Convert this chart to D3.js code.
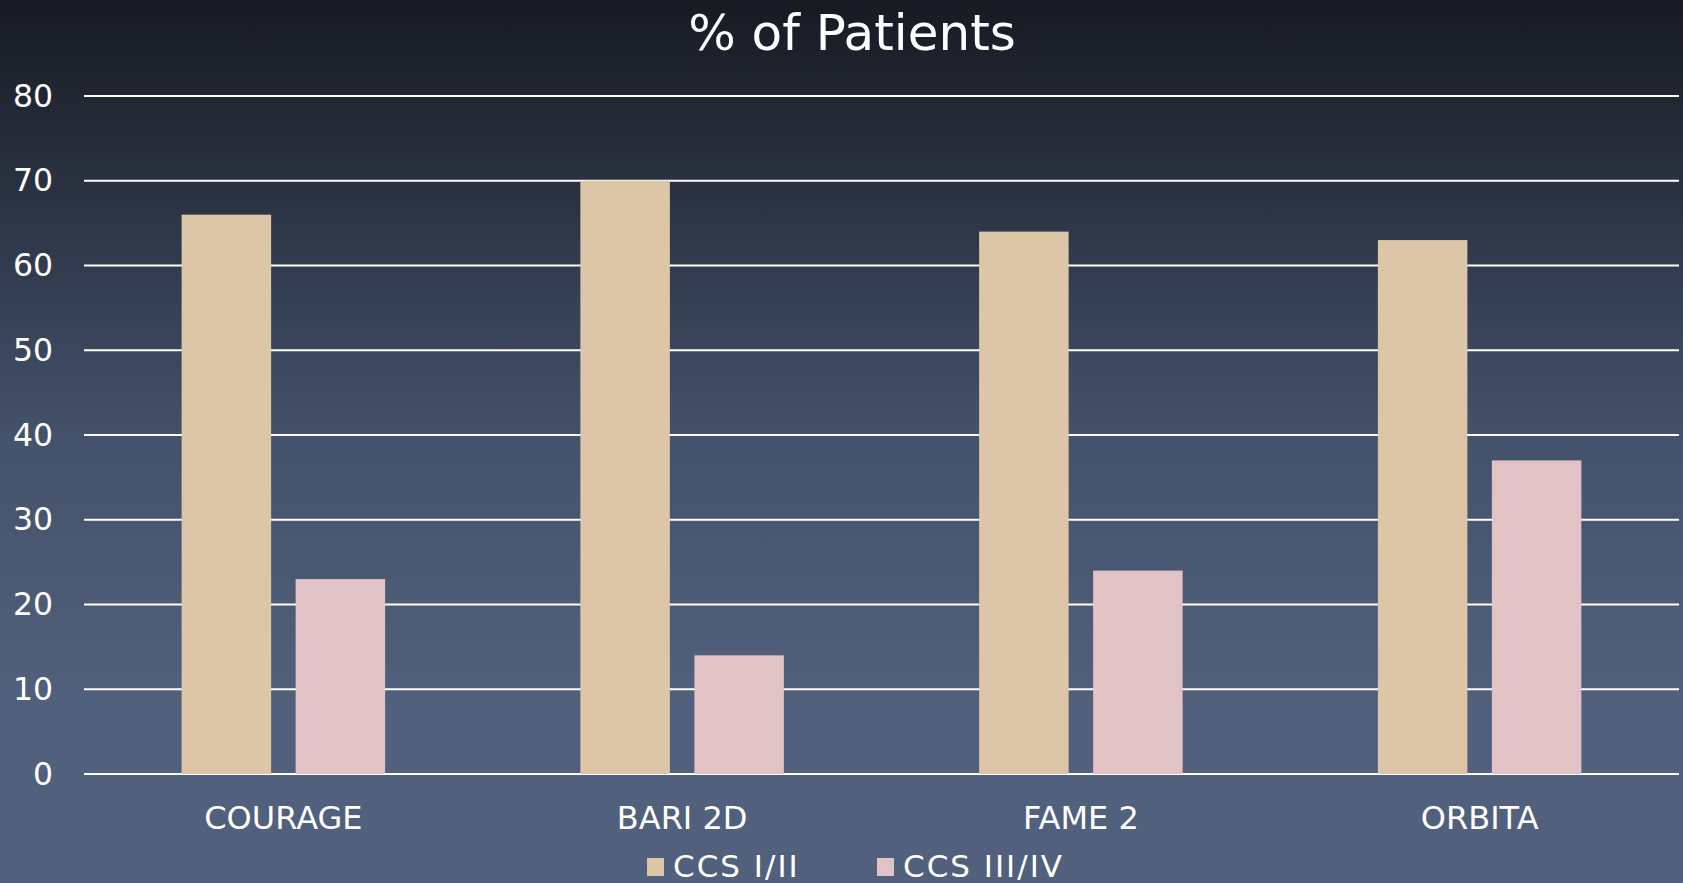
<!DOCTYPE html>
<html>
<head>
<meta charset="utf-8">
<script src="https://cdn.jsdelivr.net/npm/d3@7"></script>
<style>
  body { margin: 0; overflow: hidden; }
  text { font-family: "DejaVu Sans", Verdana, sans-serif; fill: #fff; }
</style>
</head>
<body>
<script>
// data
var categories = ["COURAGE", "BARI 2D", "FAME 2", "ORBITA"];
var seriesNames = ["CCS I/II", "CCS III/IV"];
var ccs12 = [66, 70, 64, 63];
var ccs34 = [23, 14, 24, 37];
var yTicks = [0, 10, 20, 30, 40, 50, 60, 70, 80];

var width = 1683, height = 883;
var colors = ["#dcc6a7", "#e2c3c5"];
var plotL = 84, plotR = 1679, plotT = 96, plotB = 774;
var barW = 89.5, barGap = 24.5;

var svg = d3.select("body").append("svg")
    .attr("width", width)
    .attr("height", height);

var grad = svg.append("defs").append("linearGradient")
    .attr("id", "bg")
    .attr("x1", 0).attr("y1", 0).attr("x2", 0).attr("y2", 1);
grad.append("stop").attr("offset", "0").attr("stop-color", "#171a22");
grad.append("stop").attr("offset", "0.5").attr("stop-color", "#44526b");
grad.append("stop").attr("offset", "0.8").attr("stop-color", "#51607c");
grad.append("stop").attr("offset", "1").attr("stop-color", "#51607c");

svg.append("rect")
    .attr("width", width).attr("height", height)
    .attr("fill", "url(#bg)");

var x = d3.scaleBand()
    .domain(categories)
    .range([plotL, plotR]);

var groupW = barW * 2 + barGap;
var x1 = d3.scaleBand()
    .domain(seriesNames)
    .range([0, groupW])
    .paddingInner(barGap / (barW + barGap));

var y = d3.scaleLinear()
    .domain([0, 80])
    .range([plotB, plotT]);

// gridlines
svg.append("g")
    .selectAll("line")
    .data(yTicks)
    .enter()
    .append("line")
        .attr("x1", plotL)
        .attr("x2", plotR)
        .attr("y1", d => y(d))
        .attr("y2", d => y(d))
        .attr("stroke", "#fff")
        .attr("stroke-width", 2);

// y axis labels
var yAxis = d3.axisLeft(y).tickValues(yTicks).tickSize(0).tickPadding(31);
var yg = svg.append("g")
    .attr("transform", "translate(" + plotL + ",0)")
    .call(yAxis);
yg.select(".domain").remove();
yg.selectAll("text")
    .attr("font-family", null)
    .attr("fill", "#fff")
    .style("font-size", "31.5px");

var rows = categories.map((c, i) => ({cat: c, vals: [ccs12[i], ccs34[i]]}));

var groups = svg.append("g")
    .selectAll("g")
    .data(rows)
    .enter()
    .append("g")
        .attr("transform", d => "translate(" + (x(d.cat) + x.bandwidth() / 2 - groupW / 2) + ",0)");

groups.selectAll("rect")
    .data(d => d.vals.map((v, j) => ({s: seriesNames[j], v: v, j: j})))
    .enter()
    .append("rect")
        .attr("x", d => x1(d.s))
        .attr("width", x1.bandwidth())
        .attr("y", d => y(d.v))
        .attr("height", d => plotB - y(d.v))
        .attr("fill", d => colors[d.j]);

// category labels
var xAxis = d3.axisBottom(x).tickSize(0).tickPadding(32);
var xg = svg.append("g")
    .attr("transform", "translate(0," + plotB + ")")
    .call(xAxis);
xg.select(".domain").remove();
xg.selectAll("text")
    .attr("font-family", null)
    .attr("fill", "#fff")
    .style("font-size", "32px");

// title
svg.append("text")
    .attr("x", 852)
    .attr("y", 50)
    .attr("text-anchor", "middle")
    .style("font-size", "50px")
    .text("% of Patients");

// legend
var legendX = [647, 877];
var legend = svg.append("g")
    .selectAll("g")
    .data(seriesNames)
    .enter()
    .append("g")
        .attr("transform", (d, i) => "translate(" + legendX[i] + ",0)");
legend.append("rect")
    .attr("y", 858)
    .attr("width", 17)
    .attr("height", 18)
    .attr("fill", (d, i) => colors[i]);
legend.append("text")
    .attr("x", 26)
    .attr("y", 877)
    .style("font-size", "31px")
    .style("letter-spacing", "2px")
    .text(d => d);
</script>
</body>
</html>
